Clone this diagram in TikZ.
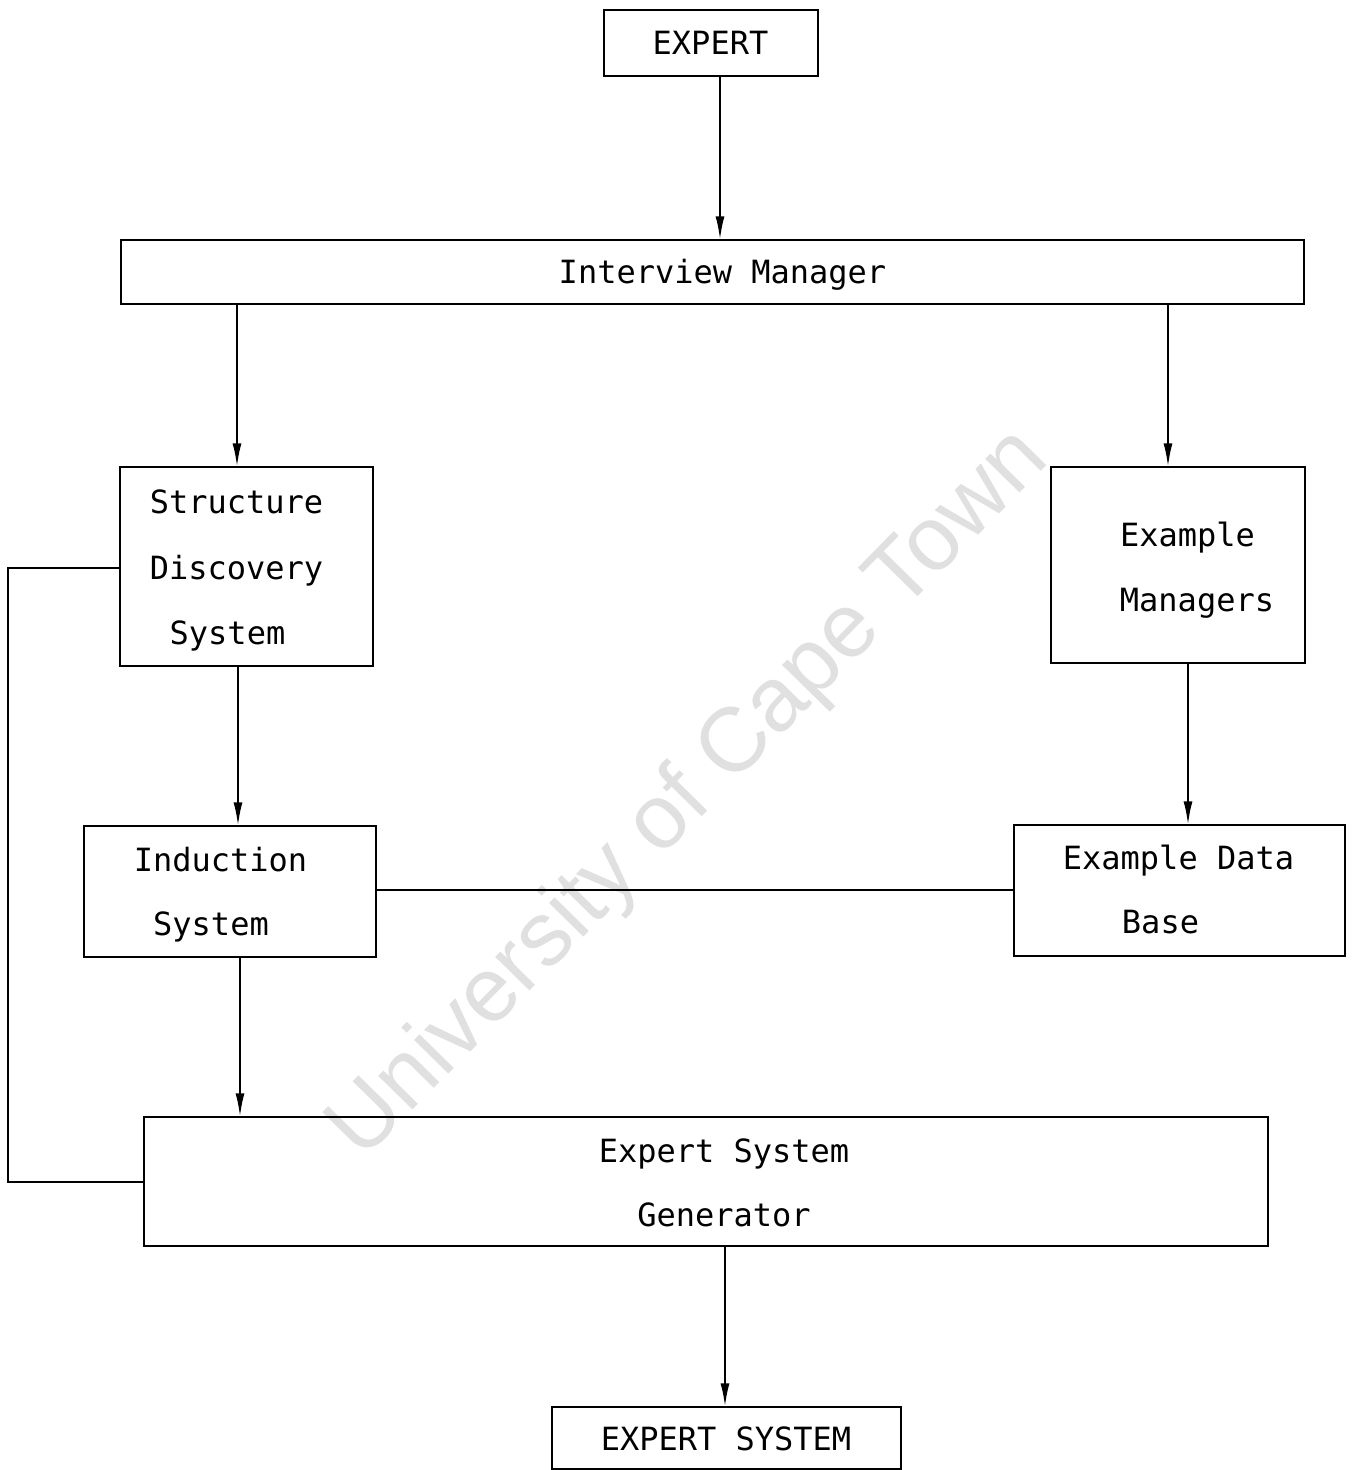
\documentclass[tikz,border=0pt]{standalone}
\usepackage{fontspec}
\newfontfamily\monofont{DejaVu Sans Mono}
\newfontfamily\wmfont{Liberation Sans}
\usetikzlibrary{arrows.meta}
\begin{document}
\begin{tikzpicture}[x=1pt,y=-1pt,
  box/.style={draw, line width=2.4pt, inner sep=0pt},
  lbl/.style={font=\monofont\fontsize{32}{38}\selectfont, anchor=base, inner sep=0pt},
  arr/.style={line width=2.4pt, -{Latex[length=24pt,width=9pt]}, shorten >=-1.5pt},
  ln/.style={line width=2.4pt}]
\useasboundingbox (0,0) rectangle (1354,1470);
% watermark
\node[font=\wmfont\fontsize{91}{100}\selectfont, text=black!12, rotate=45.5] (wm) at (690,795) {University of Cape Town};
% boxes
\node[box, minimum width=214pt, minimum height=66pt] (expert) at (711,43) {};
\node[box, minimum width=1183pt, minimum height=64pt] (im) at (712.5,272) {};
\node[box, minimum width=253pt, minimum height=199pt] (sds) at (246.5,566.5) {};
\node[box, minimum width=254pt, minimum height=196pt] (em) at (1178,565) {};
\node[box, minimum width=292pt, minimum height=131pt] (ind) at (230,891.5) {};
\node[box, minimum width=331pt, minimum height=131pt] (edb) at (1179.5,890.5) {};
\node[box, minimum width=1124pt, minimum height=129pt] (gen) at (706,1181.5) {};
\node[box, minimum width=349pt, minimum height=62pt] (es) at (726.5,1438) {};
% labels
\node[lbl] (t1) at (710.5,54) {EXPERT};
\node[lbl] (t2) at (722.5,283) {Interview Manager};
\node[lbl] (t3) at (236.5,513) {Structure};
\node[lbl] (t4) at (236.5,579) {Discovery};
\node[lbl] (t5) at (227.5,644) {System};
\node[lbl] (t6) at (1187.5,546) {Example};
\node[lbl] (t7) at (1197,611) {Managers};
\node[lbl] (t8) at (220.5,871) {Induction};
\node[lbl] (t9) at (211,935) {System};
\node[lbl] (t10) at (1178.5,869) {Example Data};
\node[lbl] (t11) at (1160.5,933) {Base};
\node[lbl] (t12) at (724,1162) {Expert System};
\node[lbl] (t13) at (724,1226) {Generator};
\node[lbl] (t14) at (726,1450) {EXPERT SYSTEM};
% connectors
\draw[arr] (expert.south -| 720,0) -- (im.north -| 720,0);
\draw[arr] (im.south -| 237,0) -- (sds.north -| 237,0);
\draw[arr] (im.south -| 1168,0) -- (em.north -| 1168,0);
\draw[arr] (sds.south -| 238,0) -- (ind.north -| 238,0);
\draw[arr] (em.south -| 1188,0) -- (edb.north -| 1188,0);
\draw[arr] (ind.south -| 240,0) -- (gen.north -| 240,0);
\draw[arr] (gen.south -| 725,0) -- (es.north -| 725,0);
\draw[ln] (ind.east |- 0,890) -- (edb.west |- 0,890);
\coordinate (c1) at (8,568);
\coordinate (c2) at (8,1182);
\draw[ln] (sds.west |- c1) -- (c1) -- (c2) -- (gen.west |- c2);
\end{tikzpicture}
\end{document}
